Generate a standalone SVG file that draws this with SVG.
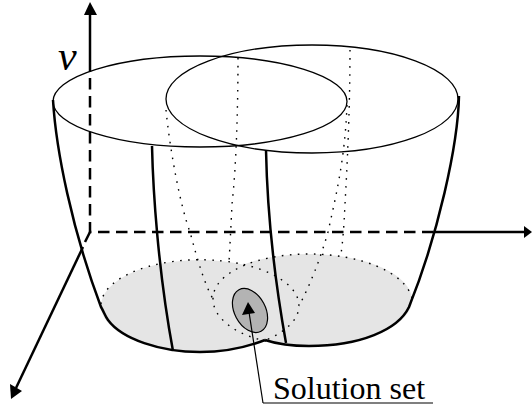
<svg xmlns="http://www.w3.org/2000/svg" width="532" height="408" viewBox="0 0 532 408">
<style>
.thin{fill:none;stroke:#000;stroke-width:1.3}
.thick{fill:none;stroke:#000;stroke-width:2.5}
.axis{fill:none;stroke:#000;stroke-width:2.5}
.dash{fill:none;stroke:#000;stroke-width:2.5;stroke-dasharray:11.500 6.500}
.dot{fill:none;stroke:#000;stroke-width:1.4;stroke-dasharray:1.600 6.400}
.head{fill:#000;stroke:none}
text{font-family:"Liberation Serif",serif;fill:#000}
</style>
<g id="floor">
<ellipse cx="200" cy="306" rx="99" ry="46" fill="#e5e5e5"/>
<ellipse cx="309" cy="300" rx="103" ry="46" fill="#e5e5e5"/>
<path class="dot" d="M101 304A99 46 0 1 1 266 340"/>
<path class="dot" d="M266 341C240 336 213 320 213 299C213 272 258 254 309 254C360 254 405 272 412 298"/>
</g>
<g id="solution-region">
<ellipse cx="250" cy="310.500" rx="15.500" ry="23.500" transform="rotate(-28 250 310.500)" fill="#b3b3b3" stroke="#000" stroke-width="1.200"/>
</g>
<g id="connectors">
<path class="axis" d="M90 14V72"/>
<path class="dash" d="M90 78V232H435"/>
<path class="axis" d="M435 232H525"/>
<path class="dash" d="M90 232L85 242"/>
<path class="axis" d="M83 247L16 388"/>
<polygon class="head" points="90,2 84,15 97,15"/>
<polygon class="head" points="532,232 524,226 524,238"/>
<polygon class="head" points="11,399 10,384 22,391"/>
<path d="M263 403L249 312" fill="none" stroke="#000" stroke-width="1.200"/>
<polygon class="head" points="248,302 242,315 255,313"/>
<path d="M263 403H433" fill="none" stroke="#000" stroke-width="1.200"/>
</g>
<g id="surface-1">
<ellipse class="thin" cx="200" cy="101.500" rx="147" ry="45.500"/>
<path class="thick" d="M53 100C56 150 72 230 101 307C104 312 105 316 108 320C122 339 160 352 200 352C225 352 247 347 265 340"/>
<path class="thick" d="M152 146C153 190 158 270 173 351"/>
<path class="dot" d="M166 110C170 150 180 205 190 232C198 262 205 285 213 299"/>
<path class="dot" d="M238 58C238 110 236 170 232 204C231 225 230 245 229 262"/>
</g>
<g id="surface-2">
<ellipse class="thin" cx="312" cy="99" rx="146" ry="54"/>
<path class="thick" d="M459 96C458 145 438 235 409 307C398 330 360 346 309 346C295 346 280 345 265 340"/>
<path class="thick" d="M266 150C267 200 272 265 286 343"/>
<path class="dot" d="M350 50C350 110 347 170 345 204C344 225 343 240 341 254"/>
<path class="dot" d="M347 105C345 160 335 200 328 232C320 260 310 285 299 306"/>
</g>
<g id="labels">
<text x="58" y="70" font-size="42" font-style="italic">v</text>
<text x="273" y="399" font-size="32">Solution set</text>
</g>
</svg>
